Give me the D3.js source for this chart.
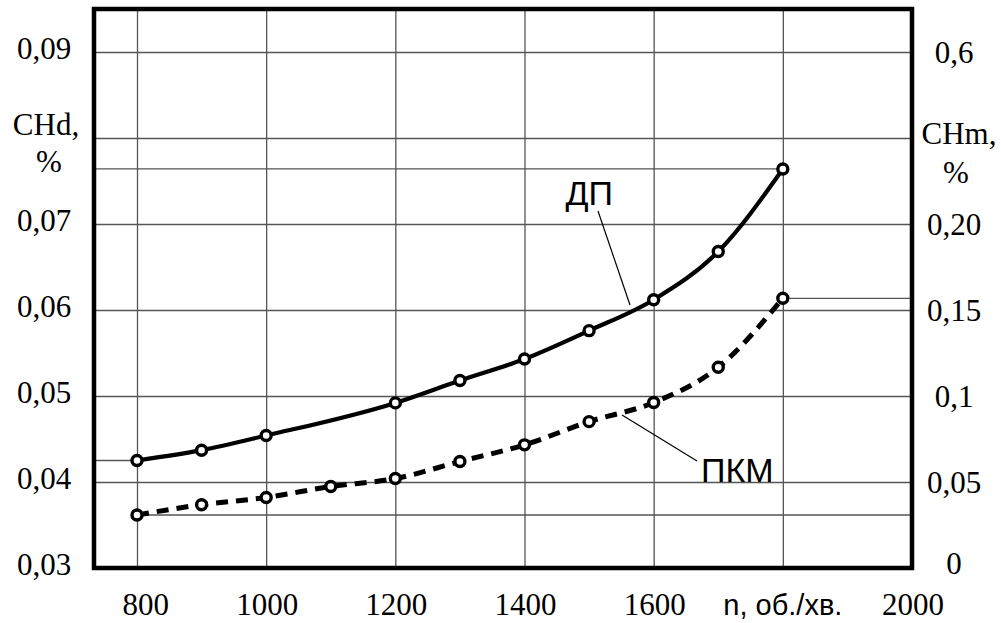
<!DOCTYPE html>
<html>
<head>
<meta charset="utf-8">
<script src="https://cdn.jsdelivr.net/npm/d3@7"></script>
<style>
body { margin: 0; background: #fff; }
</style>
</head>
<body>
<div id="chart"></div>
<script>
// ДП (solid, left axis CHd)
var rpmDP = [800, 900, 1000, 1200, 1300, 1400, 1500, 1600, 1700, 1800];
var chdDP = [0.0425, 0.0437, 0.0454, 0.0492, 0.0518, 0.0543, 0.0576, 0.0612, 0.0668, 0.0764];
// ПКМ (dashed, right axis CHm)
var rpmPKM = [800, 900, 1000, 1100, 1200, 1300, 1400, 1500, 1600, 1700, 1800];
var chmPKM = [0.0308, 0.0368, 0.0410, 0.0474, 0.0520, 0.0619, 0.0716, 0.0851, 0.0962, 0.1167, 0.1568];

var xTicks = [800, 1000, 1200, 1400, 1600, 1800, 2000];
var xTickLabels = ["800", "1000", "1200", "1400", "1600", "n, об./хв.", "2000"];
var leftTicks = [0.03, 0.04, 0.05, 0.06, 0.07, 0.08, 0.09];
var leftTickLabels = ["0,03", "0,04", "0,05", "0,06", "0,07", "", "0,09"];
var rightTicks = [0, 0.05, 0.1, 0.15, 0.2, 0.25, 0.3];
var rightTickLabels = ["0", "0,05", "0,1", "0,15", "0,20", "", "0,6"];

var W = 1001, H = 623;
var frame = {left: 94, top: 9, right: 912, bottom: 568};
var serif = "'Liberation Serif', 'Times New Roman', serif";
var sans = "'Liberation Sans', Arial, sans-serif";

var svg = d3.select("#chart")
    .append("svg")
    .attr("width", W)
    .attr("height", H)
    .style("background-color", "#fff");

var x = d3.scaleLinear().domain([800, 2000]).range([137, frame.right]);
var yL = d3.scaleLinear().domain([0.03, 0.09]).range([frame.bottom, 52]);
var yR = d3.scaleLinear().domain([0, 0.3]).range([frame.bottom, 52]);

// grid
svg.append("g")
    .attr("class", "grid")
    .attr("transform", "translate(0," + frame.bottom + ")")
    .call(d3.axisBottom(x).tickValues(xTicks.slice(0, -1))
        .tickSize(-(frame.bottom - frame.top)).tickFormat(""));

svg.append("g")
    .attr("class", "grid")
    .attr("transform", "translate(" + frame.left + ",0)")
    .call(d3.axisLeft(yL).tickValues(leftTicks.slice(1))
        .tickSize(-(frame.right - frame.left)).tickFormat(""));

svg.selectAll(".grid .domain").remove();
svg.selectAll(".grid line")
    .style("stroke", "#555")
    .style("stroke-width", 1.3);

// reference lines from end points to the axes
var refs = [
    {x1: frame.left, x2: x(rpmDP[0]), y: yL(chdDP[0])},
    {x1: frame.left, x2: x(rpmDP[rpmDP.length - 1]), y: yL(chdDP[chdDP.length - 1])},
    {x1: x(rpmPKM[0]), x2: frame.right, y: yR(chmPKM[0])},
    {x1: x(rpmPKM[rpmPKM.length - 1]), x2: frame.right, y: yR(chmPKM[chmPKM.length - 1])}
];
svg.selectAll(".ref")
    .data(refs)
    .enter().append("line")
    .attr("class", "ref")
    .attr("x1", function(d) { return d.x1; })
    .attr("x2", function(d) { return d.x2; })
    .attr("y1", function(d) { return d.y; })
    .attr("y2", function(d) { return d.y; })
    .style("stroke", "#555")
    .style("stroke-width", 1.3);

// frame
svg.append("rect")
    .attr("x", frame.left)
    .attr("y", frame.top)
    .attr("width", frame.right - frame.left)
    .attr("height", frame.bottom - frame.top)
    .style("fill", "none")
    .style("stroke", "#000")
    .style("stroke-width", 4.5);

// curves
var dpLine = d3.line()
    .x(function(d, i) { return x(rpmDP[i]); })
    .y(function(d) { return yL(d); })
    .curve(d3.curveMonotoneX);

var pkmLine = d3.line()
    .x(function(d, i) { return x(rpmPKM[i]); })
    .y(function(d) { return yR(d); })
    .curve(d3.curveMonotoneX);

svg.append("path")
    .attr("d", dpLine(chdDP))
    .style("fill", "none")
    .style("stroke", "#000")
    .style("stroke-width", 4.2);

svg.append("path")
    .attr("d", pkmLine(chmPKM))
    .style("fill", "none")
    .style("stroke", "#000")
    .style("stroke-width", 5)
    .style("stroke-dasharray", "12,8");

// markers
svg.selectAll(".mDP")
    .data(chdDP)
    .enter().append("circle")
    .attr("class", "mDP")
    .attr("cx", function(d, i) { return x(rpmDP[i]); })
    .attr("cy", function(d) { return yL(d); })
    .attr("r", 5)
    .style("fill", "#fff")
    .style("stroke", "#000")
    .style("stroke-width", 3.4);

svg.selectAll(".mPKM")
    .data(chmPKM)
    .enter().append("circle")
    .attr("class", "mPKM")
    .attr("cx", function(d, i) { return x(rpmPKM[i]); })
    .attr("cy", function(d) { return yR(d); })
    .attr("r", 5)
    .style("fill", "#fff")
    .style("stroke", "#000")
    .style("stroke-width", 3.4);

// tick labels
svg.selectAll(".xl")
    .data(xTicks)
    .enter().append("text")
    .attr("class", "xl")
    .attr("x", function(d, i) { return isNaN(+xTickLabels[i]) ? x(d) : x(d) + 32; })
    .attr("y", 615)
    .attr("text-anchor", function(d, i) { return isNaN(+xTickLabels[i]) ? "middle" : "end"; })
    .style("font-family", function(d, i) { return isNaN(+xTickLabels[i]) ? sans : serif; })
    .style("font-size", function(d, i) { return isNaN(+xTickLabels[i]) ? "29px" : "31px"; })
    .text(function(d, i) { return xTickLabels[i]; });

svg.selectAll(".yl")
    .data(leftTicks)
    .enter().append("text")
    .attr("class", "yl")
    .attr("x", 44)
    .attr("y", function(d) { return yL(d) + 7; })
    .attr("text-anchor", "middle")
    .style("font-family", serif)
    .style("font-size", "31px")
    .text(function(d, i) { return leftTickLabels[i]; });

svg.selectAll(".yr")
    .data(rightTicks)
    .enter().append("text")
    .attr("class", "yr")
    .attr("x", 954)
    .attr("y", function(d) { return yR(d) + (d === 0 ? 6 : 11); })
    .attr("text-anchor", "middle")
    .style("font-family", serif)
    .style("font-size", "31px")
    .text(function(d, i) { return rightTickLabels[i]; });

// axis titles
function title(tx, ty, s)
{
    svg.append("text")
        .attr("x", tx)
        .attr("y", ty)
        .attr("text-anchor", "middle")
        .style("font-family", serif)
        .style("font-size", "31px")
        .text(s);
}
title(46, 135, "CHd,");
title(49, 172, "%");
title(959, 144, "CHm,");
title(956, 183, "%");

// series labels with leaders
svg.append("text")
    .attr("x", 613)
    .attr("y", 205)
    .attr("text-anchor", "end")
    .style("font-family", sans)
    .style("font-size", "34px")
    .text("ДП");

svg.append("text")
    .attr("x", 701)
    .attr("y", 482)
    .style("font-family", sans)
    .style("font-size", "34px")
    .text("ПКМ");

svg.append("line")
    .attr("x1", 598).attr("y1", 211)
    .attr("x2", 630).attr("y2", 305)
    .style("stroke", "#000").style("stroke-width", 1.2);

svg.append("line")
    .attr("x1", 622).attr("y1", 415)
    .attr("x2", 697).attr("y2", 461)
    .style("stroke", "#000").style("stroke-width", 1.2);
</script>
</body>
</html>
